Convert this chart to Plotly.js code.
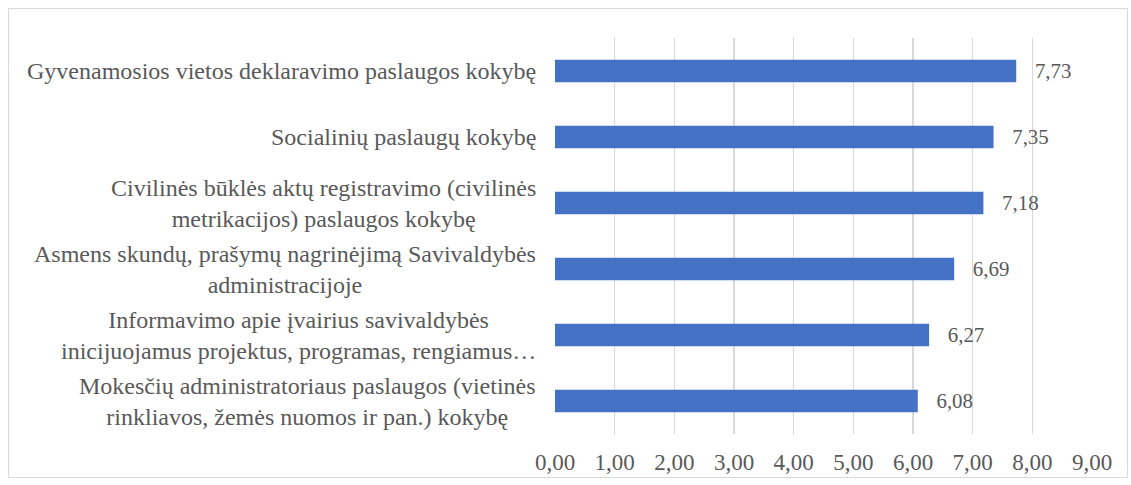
<!DOCTYPE html>
<html>
<head>
<meta charset="utf-8">
<script src="https://cdn.plot.ly/plotly-3.0.1.min.js"></script>
<style>
html,body{margin:0;padding:0;background:#fff;}
#chart{width:1131px;height:485px;}
</style>
</head>
<body>
<div id="chart"></div>
<script>
var categories = [
  "Gyvenamosios vietos deklaravimo paslaugos kokybę",
  "Socialinių paslaugų kokybę",
  "Civilinės būklės aktų registravimo (civilinės<br>metrikacijos) paslaugos kokybę",
  "Asmens skundų, prašymų nagrinėjimą Savivaldybės<br>administracijoje",
  "Informavimo apie įvairius savivaldybės<br>inicijuojamus projektus, programas, rengiamus…",
  "Mokesčių administratoriaus paslaugos (vietinės<br>rinkliavos, žemės nuomos ir pan.) kokybę"
];
var values = [7.73, 7.35, 7.18, 6.69, 6.27, 6.08];
var xTicks = [0, 1, 2, 3, 4, 5, 6, 7, 8, 9];

var W = 1131, H = 485;
var mL = 555, mR = 39, mT = 38, mB = 51;
var pw = W - mL - mR, ph = H - mT - mB;
function px2x(p){ return (p - mL) / pw; }
function py2y(p){ return (H - mB - p) / ph; }

var FONT = 'Liberation Serif, Times New Roman, serif';
var TXT = '#595959';

var trace = {
  type: 'bar',
  orientation: 'h',
  y: categories,
  x: values,
  marker: {color: '#4472C4'},
  texttemplate: '\u00a0\u00a0\u00a0%{x:.2f}',
  textposition: 'outside',
  textfont: {family: FONT, size: 23, color: TXT},
  cliponaxis: false,
  hoverinfo: 'x+y'
};

var annotations = categories.map(function(c){
  return {
    xref: 'paper', yref: 'y', x: 0, y: c, xshift: -17,
    xanchor: 'right', yanchor: 'middle', align: 'center',
    text: c, showarrow: false,
    font: {family: FONT, size: 24, color: TXT}
  };
});

var layout = {
  width: W, height: H,
  margin: {l: mL, r: mR, t: mT, b: mB, pad: 0},
  paper_bgcolor: '#fff', plot_bgcolor: '#fff',
  separators: ', ',
  showlegend: false,
  bargap: 0.656,
  font: {family: FONT, size: 23, color: TXT},
  xaxis: {
    range: [0, 9], tickvals: xTicks, tickformat: '.2f',
    showgrid: true, gridcolor: '#d9d9d9', gridwidth: 1.5,
    zeroline: false, showline: false, ticks: '',
    ticklabelstandoff: 12,
    tickfont: {family: FONT, size: 23, color: TXT},
    fixedrange: true
  },
  yaxis: {
    type: 'category', autorange: 'reversed',
    showticklabels: false, showgrid: false, zeroline: false, showline: false, ticks: '',
    fixedrange: true
  },
  annotations: annotations,
  shapes: [{
    type: 'rect', xref: 'paper', yref: 'paper', layer: 'below',
    x0: px2x(8.5), x1: px2x(1127.5), y0: py2y(477.5), y1: py2y(8.5),
    line: {color: '#d9d9d9', width: 1}, fillcolor: 'rgba(0,0,0,0)'
  }]
};

Plotly.newPlot('chart', [trace], layout, {displayModeBar: false, staticPlot: true});
</script>
</body>
</html>
